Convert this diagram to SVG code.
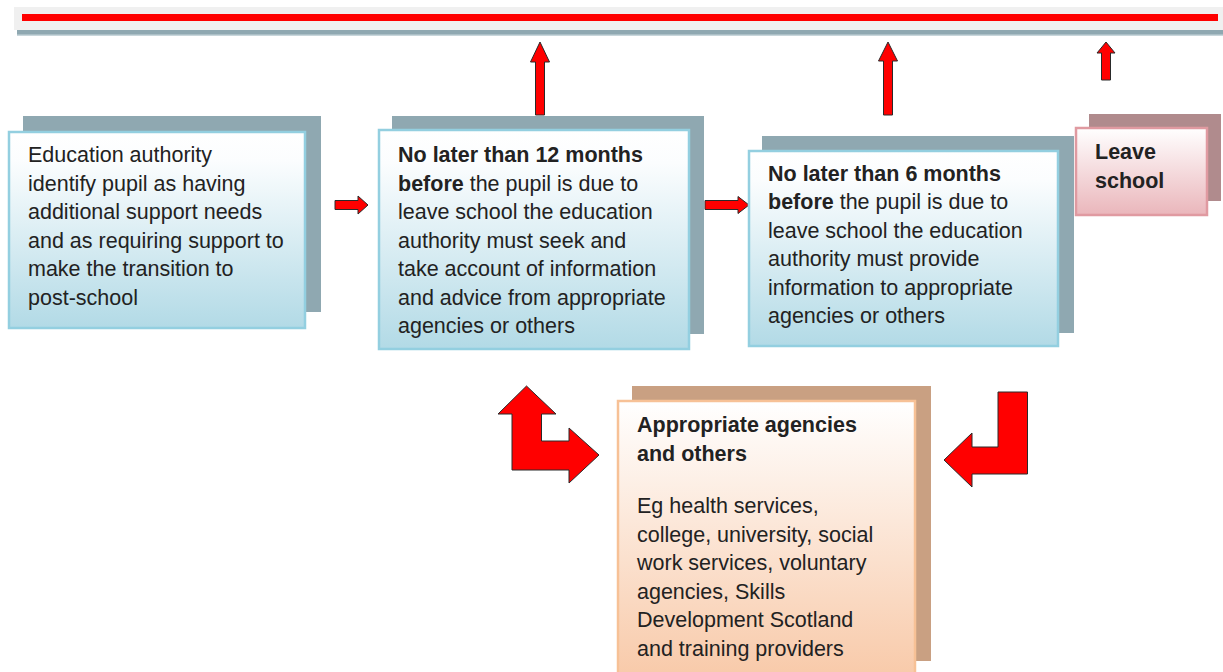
<svg xmlns="http://www.w3.org/2000/svg" width="1223" height="672" viewBox="0 0 1223 672">
<defs>
<linearGradient id="gBlue" x1="0" y1="0" x2="0" y2="1">
<stop offset="0" stop-color="#ffffff"/>
<stop offset="0.15" stop-color="#fbfdfe"/>
<stop offset="1" stop-color="#b2dae6"/>
</linearGradient>
<linearGradient id="gPink" x1="0" y1="0" x2="0" y2="1">
<stop offset="0" stop-color="#ffffff"/>
<stop offset="1" stop-color="#eab6bb"/>
</linearGradient>
<linearGradient id="gOrange" x1="0" y1="0" x2="0" y2="1">
<stop offset="0" stop-color="#ffffff"/>
<stop offset="1" stop-color="#f8c9a8"/>
</linearGradient>
<style>
.sh{fill:#8fa8b1}
.shP{fill:#b08b8d}
.shO{fill:#c9a082}
.bx{fill:url(#gBlue);stroke:#93cfe0;stroke-width:2.5}
.bxP{fill:url(#gPink);stroke:#e09aa1;stroke-width:2.5}
.bxO{fill:url(#gOrange);stroke:#f7c196;stroke-width:2.5}
.t{font-family:"Liberation Sans",Arial,sans-serif;font-size:21.5px;fill:#222}
.b{font-weight:bold}
.ar{fill:#ff0000;stroke:#2a2a2a;stroke-width:1;stroke-linejoin:miter}
</style>
</defs>
<rect width="1223" height="672" fill="#ffffff"/>
<g id="timeline">
<rect x="14" y="7" width="1209" height="23" fill="#f0f0f0"/>
<rect x="22" y="14" width="1196" height="7" fill="#ff0000"/>
<rect x="17" y="30" width="1206" height="5" fill="#8fa8b1"/>
<rect x="17" y="34.5" width="1206" height="1.5" fill="#c8d6db"/>
</g>
<g id="connectors">
<polygon class="ar" points="540,42 549.5,62 544.5,62 544.5,115 535.5,115 535.5,62 530.5,62"/>
<polygon class="ar" points="888,42 897.5,61 892.5,61 892.5,115 883.5,115 883.5,61 878.5,61"/>
<polygon class="ar" points="1106,42 1115,53 1110.5,53 1110.5,80 1101.5,80 1101.5,53 1097,53"/>
<polygon class="ar" points="335,200.5 358,200.5 358,196 368,205 358,214 358,209.5 335,209.5"/>
<polygon class="ar" points="705,200.5 738,200.5 738,196.5 749,205 738,213.5 738,209.5 705,209.5"/>
<polygon class="ar" points="526.5,386 556,414 541.5,414 541.5,441 569,441 569,428 599,455 569,483 569,470 512,470 512,414 498,414"/>
<polygon class="ar" points="998,392 1027.5,392 1027.5,474 972,474 972,487 944,460 972,433 972,447 998,447"/>
</g>
<g id="node-identify">
<rect class="sh" x="23" y="116" width="298" height="196"/>
<rect class="bx" x="9" y="132" width="296" height="196"/>
<text class="t" x="28" y="162">Education authority</text>
<text class="t" x="28" y="190.5">identify pupil as having</text>
<text class="t" x="28" y="219">additional support needs</text>
<text class="t" x="28" y="247.5">and as requiring support to</text>
<text class="t" x="28" y="276">make the transition to</text>
<text class="t" x="28" y="304.5">post-school</text>
</g>
<g id="node-12months">
<rect class="sh" x="392" y="116" width="312" height="218"/>
<rect class="bx" x="379" y="130" width="310" height="219"/>
<text class="t b" x="398" y="162">No later than 12 months</text>
<text class="t" x="398" y="190.5"><tspan class="b">before</tspan> the pupil is due to</text>
<text class="t" x="398" y="219">leave school the education</text>
<text class="t" x="398" y="247.5">authority must seek and</text>
<text class="t" x="398" y="276">take account of information</text>
<text class="t" x="398" y="304.5">and advice from appropriate</text>
<text class="t" x="398" y="333">agencies or others</text>
</g>
<g id="node-6months">
<rect class="sh" x="762" y="136" width="312" height="197"/>
<rect class="bx" x="749" y="151" width="309" height="195"/>
<text class="t b" x="768" y="180.5">No later than 6 months</text>
<text class="t" x="768" y="209"><tspan class="b">before</tspan> the pupil is due to</text>
<text class="t" x="768" y="237.5">leave school the education</text>
<text class="t" x="768" y="266">authority must provide</text>
<text class="t" x="768" y="294.5">information to appropriate</text>
<text class="t" x="768" y="323">agencies or others</text>
</g>
<g id="node-leave">
<rect class="shP" x="1089" y="114" width="132" height="87"/>
<rect class="bxP" x="1076" y="128" width="131" height="87"/>
<text class="t b" x="1095" y="159">Leave</text>
<text class="t b" x="1095" y="188">school</text>
</g>
<g id="node-agencies">
<rect class="shO" x="632" y="386" width="299" height="275"/>
<rect class="bxO" x="618" y="401" width="297" height="280"/>
<text class="t b" x="637" y="431.5">Appropriate agencies</text>
<text class="t b" x="637" y="460.5">and others</text>
<text class="t" x="637" y="513">Eg health services,</text>
<text class="t" x="637" y="541.5">college, university, social</text>
<text class="t" x="637" y="570">work services, voluntary</text>
<text class="t" x="637" y="598.5">agencies, Skills</text>
<text class="t" x="637" y="627">Development Scotland</text>
<text class="t" x="637" y="655.5">and training providers</text>
</g>
</svg>
